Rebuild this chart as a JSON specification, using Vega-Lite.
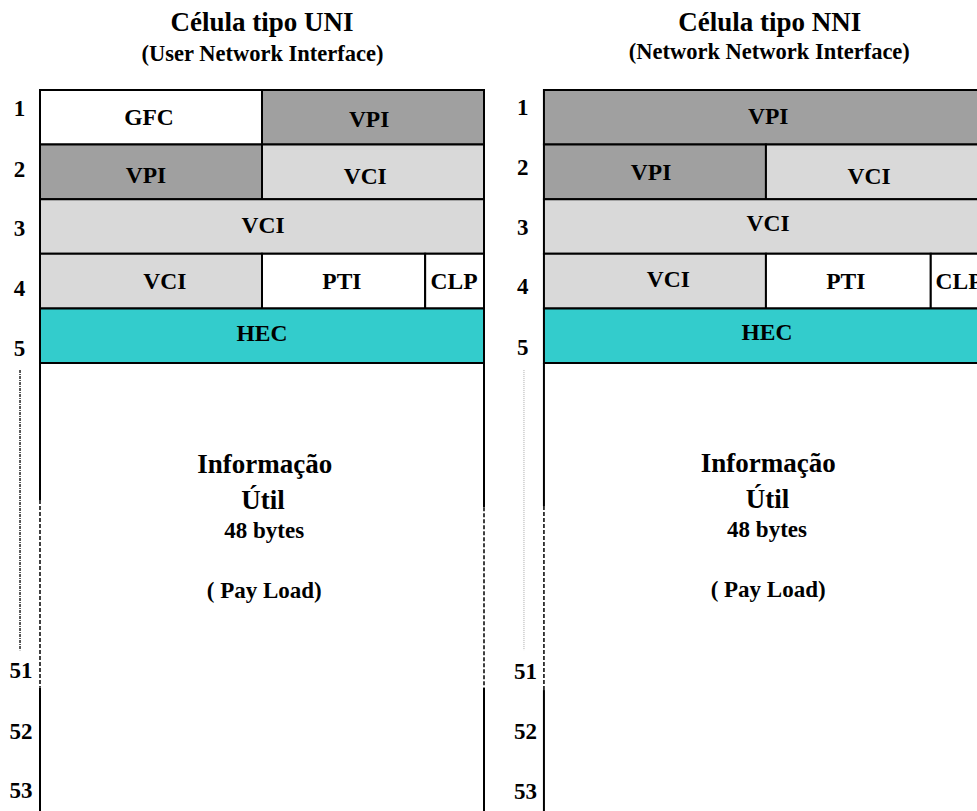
{
  "$schema": "https://vega.github.io/schema/vega-lite/v6.json",
  "width": 977,
  "height": 811,
  "padding": 0,
  "autosize": {"type": "fit", "contains": "padding"},
  "background": "#ffffff",
  "config": {"view": {"stroke": null}, "text": {"font": "Liberation Serif", "fontWeight": "bold", "color": "#000000"}},
  "datasets": {
    "fields": [
      {"cell": "UNI", "name": "GFC", "b0": 0, "b1": 4.0, "r0": 0, "r1": 1},
      {"cell": "UNI", "name": "VPI", "b0": 4.0, "b1": 8, "r0": 0, "r1": 1},
      {"cell": "UNI", "name": "VPI", "b0": 0, "b1": 4.0, "r0": 1, "r1": 2},
      {"cell": "UNI", "name": "VCI", "b0": 4.0, "b1": 8, "r0": 1, "r1": 2},
      {"cell": "UNI", "name": "VCI", "b0": 0, "b1": 8, "r0": 2, "r1": 3},
      {"cell": "UNI", "name": "VCI", "b0": 0, "b1": 4.0, "r0": 3, "r1": 4},
      {"cell": "UNI", "name": "PTI", "b0": 4.0, "b1": 6.94, "r0": 3, "r1": 4},
      {"cell": "UNI", "name": "CLP", "b0": 6.94, "b1": 8, "r0": 3, "r1": 4},
      {"cell": "UNI", "name": "HEC", "b0": 0, "b1": 8, "r0": 4, "r1": 5},
      {"cell": "NNI", "name": "VPI", "b0": 9.08, "b1": 17.08, "r0": 0, "r1": 1},
      {"cell": "NNI", "name": "VPI", "b0": 9.08, "b1": 13.08, "r0": 1, "r1": 2},
      {"cell": "NNI", "name": "VCI", "b0": 13.08, "b1": 17.08, "r0": 1, "r1": 2},
      {"cell": "NNI", "name": "VCI", "b0": 9.08, "b1": 17.08, "r0": 2, "r1": 3},
      {"cell": "NNI", "name": "VCI", "b0": 9.08, "b1": 13.08, "r0": 3, "r1": 4},
      {"cell": "NNI", "name": "PTI", "b0": 13.08, "b1": 16.05, "r0": 3, "r1": 4},
      {"cell": "NNI", "name": "CLP", "b0": 16.05, "b1": 17.08, "r0": 3, "r1": 4},
      {"cell": "NNI", "name": "HEC", "b0": 9.08, "b1": 17.08, "r0": 4, "r1": 5}
    ],
    "lines": [
      {"cell": "UNI", "kind": "border", "b": 0, "r0": 5, "r1": 7.51},
      {"cell": "UNI", "kind": "gap", "b": 0, "r0": 7.51, "r1": 10.95},
      {"cell": "UNI", "kind": "border", "b": 0, "r0": 10.95, "r1": 13.4},
      {"cell": "UNI", "kind": "border", "b": 8, "r0": 5, "r1": 7.64},
      {"cell": "UNI", "kind": "gap", "b": 8, "r0": 7.64, "r1": 10.95},
      {"cell": "UNI", "kind": "border", "b": 8, "r0": 10.95, "r1": 13.4},
      {"cell": "NNI", "kind": "border", "b": 9.08, "r0": 5, "r1": 7.62},
      {"cell": "NNI", "kind": "gap", "b": 9.08, "r0": 7.62, "r1": 10.99},
      {"cell": "NNI", "kind": "border", "b": 9.08, "r0": 10.99, "r1": 13.4},
      {"cell": "UNI", "kind": "ellipsis", "b": -0.36, "r0": 5.13, "r1": 10.26},
      {"cell": "NNI", "kind": "ellipsis", "b": 8.72, "r0": 5.13, "r1": 10.26}
    ],
    "labels": [
      {"role": "title", "t": "Célula tipo UNI", "b": 4.0, "r": -1.236},
      {"role": "subtitle", "t": "(User Network Interface)", "b": 4.01, "r": -0.659},
      {"role": "title", "t": "Célula tipo NNI", "b": 13.15, "r": -1.22},
      {"role": "subtitle", "t": "(Network Network Interface)", "b": 13.14, "r": -0.687},
      {"role": "row", "t": "1", "b": -0.37, "r": 0.357},
      {"role": "row", "t": "2", "b": -0.37, "r": 1.465},
      {"role": "row", "t": "3", "b": -0.37, "r": 2.546},
      {"role": "row", "t": "4", "b": -0.37, "r": 3.645},
      {"role": "row", "t": "5", "b": -0.37, "r": 4.744},
      {"role": "row", "t": "51", "b": -0.342, "r": 10.64},
      {"role": "row", "t": "52", "b": -0.342, "r": 11.76},
      {"role": "row", "t": "53", "b": -0.342, "r": 12.84},
      {"role": "row", "t": "1", "b": 8.70, "r": 0.33},
      {"role": "row", "t": "2", "b": 8.70, "r": 1.43},
      {"role": "row", "t": "3", "b": 8.70, "r": 2.53},
      {"role": "row", "t": "4", "b": 8.70, "r": 3.61},
      {"role": "row", "t": "5", "b": 8.70, "r": 4.73},
      {"role": "row", "t": "51", "b": 8.75, "r": 10.66},
      {"role": "row", "t": "52", "b": 8.75, "r": 11.76},
      {"role": "row", "t": "53", "b": 8.75, "r": 12.86},
      {"role": "field", "t": "GFC", "b": 1.964, "r": 0.513},
      {"role": "field", "t": "VPI", "b": 5.93, "r": 0.549},
      {"role": "field", "t": "VPI", "b": 1.91, "r": 1.575},
      {"role": "field", "t": "VCI", "b": 5.86, "r": 1.593},
      {"role": "field", "t": "VCI", "b": 4.02, "r": 2.49},
      {"role": "field", "t": "VCI", "b": 2.25, "r": 3.516},
      {"role": "field", "t": "PTI", "b": 5.44, "r": 3.516},
      {"role": "field", "t": "CLP", "b": 7.46, "r": 3.516},
      {"role": "field", "t": "HEC", "b": 4.0, "r": 4.47},
      {"role": "field", "t": "VPI", "b": 13.12, "r": 0.495},
      {"role": "field", "t": "VPI", "b": 11.01, "r": 1.52},
      {"role": "field", "t": "VCI", "b": 14.94, "r": 1.593},
      {"role": "field", "t": "VCI", "b": 13.12, "r": 2.454},
      {"role": "field", "t": "VCI", "b": 11.32, "r": 3.48},
      {"role": "field", "t": "PTI", "b": 14.52, "r": 3.516},
      {"role": "field", "t": "CLP", "b": 16.56, "r": 3.516},
      {"role": "field", "t": "HEC", "b": 13.10, "r": 4.45},
      {"role": "payload", "t": "Informação", "b": 4.05, "r": 6.868},
      {"role": "payload", "t": "Útil", "b": 4.02, "r": 7.527},
      {"role": "note", "t": "48 bytes", "b": 4.04, "r": 8.068},
      {"role": "note", "t": "( Pay Load)", "b": 4.04, "r": 9.176},
      {"role": "payload", "t": "Informação", "b": 13.12, "r": 6.85},
      {"role": "payload", "t": "Útil", "b": 13.11, "r": 7.51},
      {"role": "note", "t": "48 bytes", "b": 13.10, "r": 8.06},
      {"role": "note", "t": "( Pay Load)", "b": 13.12, "r": 9.16}
    ]
  },
  "layer": [
    {
      "data": {"name": "fields"},
      "mark": {"type": "rect", "stroke": "#000000", "strokeWidth": 2, "clip": true, "opacity": 1},
      "encoding": {
        "x": {"field": "b0", "type": "quantitative", "axis": null, "scale": {"domain": [-0.7207, 16.883], "nice": false, "zero": false}},
        "x2": {"field": "b1"},
        "y": {"field": "r0", "type": "quantitative", "axis": null, "scale": {"domain": [-1.6484, 13.2051], "nice": false, "zero": false, "reverse": true}},
        "y2": {"field": "r1"},
        "color": {"field": "name", "type": "nominal", "legend": null, "scale": {"domain": ["GFC", "VPI", "VCI", "PTI", "CLP", "HEC"], "range": ["#ffffff", "#a0a0a0", "#d9d9d9", "#ffffff", "#ffffff", "#33cccc"]}}
      }
    },
    {
      "data": {"name": "lines"},
      "transform": [{"filter": "datum.kind === 'border'"}],
      "mark": {"type": "rule", "color": "#000000", "strokeWidth": 2, "clip": true},
      "encoding": {
        "x": {"field": "b", "type": "quantitative"},
        "y": {"field": "r0", "type": "quantitative"},
        "y2": {"field": "r1"}
      }
    },
    {
      "data": {"name": "lines"},
      "transform": [{"filter": "datum.kind === 'gap'"}],
      "mark": {"type": "rule", "color": "#000000", "strokeWidth": 1.5, "strokeDash": [4, 2], "clip": true},
      "encoding": {
        "x": {"field": "b", "type": "quantitative"},
        "y": {"field": "r0", "type": "quantitative"},
        "y2": {"field": "r1"}
      }
    },
    {
      "data": {"name": "lines"},
      "transform": [{"filter": "datum.kind === 'ellipsis' && datum.cell === 'UNI'"}],
      "mark": {"type": "rule", "color": "#222222", "strokeWidth": 1.5, "strokeDash": [3, 1, 1, 1], "clip": true},
      "encoding": {
        "x": {"field": "b", "type": "quantitative"},
        "y": {"field": "r0", "type": "quantitative"},
        "y2": {"field": "r1"}
      }
    },
    {
      "data": {"name": "lines"},
      "transform": [{"filter": "datum.kind === 'ellipsis' && datum.cell === 'NNI'"}],
      "mark": {"type": "rule", "color": "#aaaaaa", "strokeWidth": 1, "strokeDash": [1, 1], "clip": true},
      "encoding": {
        "x": {"field": "b", "type": "quantitative"},
        "y": {"field": "r0", "type": "quantitative"},
        "y2": {"field": "r1"}
      }
    },
    {
      "data": {"name": "labels"},
      "transform": [{"filter": "datum.role === 'title'"}],
      "mark": {"type": "text", "fontSize": 27, "baseline": "middle", "align": "center"},
      "encoding": {"x": {"field": "b", "type": "quantitative"}, "y": {"field": "r", "type": "quantitative"}, "text": {"field": "t"}}
    },
    {
      "data": {"name": "labels"},
      "transform": [{"filter": "datum.role === 'subtitle'"}],
      "mark": {"type": "text", "fontSize": 22.5, "baseline": "middle", "align": "center"},
      "encoding": {"x": {"field": "b", "type": "quantitative"}, "y": {"field": "r", "type": "quantitative"}, "text": {"field": "t"}}
    },
    {
      "data": {"name": "labels"},
      "transform": [{"filter": "datum.role === 'row'"}],
      "mark": {"type": "text", "fontSize": 23, "baseline": "middle", "align": "center"},
      "encoding": {"x": {"field": "b", "type": "quantitative"}, "y": {"field": "r", "type": "quantitative"}, "text": {"field": "t"}}
    },
    {
      "data": {"name": "labels"},
      "transform": [{"filter": "datum.role === 'field'"}],
      "mark": {"type": "text", "fontSize": 23.5, "baseline": "middle", "align": "center", "clip": true},
      "encoding": {"x": {"field": "b", "type": "quantitative"}, "y": {"field": "r", "type": "quantitative"}, "text": {"field": "t"}}
    },
    {
      "data": {"name": "labels"},
      "transform": [{"filter": "datum.role === 'payload'"}],
      "mark": {"type": "text", "fontSize": 27, "baseline": "middle", "align": "center"},
      "encoding": {"x": {"field": "b", "type": "quantitative"}, "y": {"field": "r", "type": "quantitative"}, "text": {"field": "t"}}
    },
    {
      "data": {"name": "labels"},
      "transform": [{"filter": "datum.role === 'note'"}],
      "mark": {"type": "text", "fontSize": 23, "baseline": "middle", "align": "center"},
      "encoding": {"x": {"field": "b", "type": "quantitative"}, "y": {"field": "r", "type": "quantitative"}, "text": {"field": "t"}}
    }
  ]
}
